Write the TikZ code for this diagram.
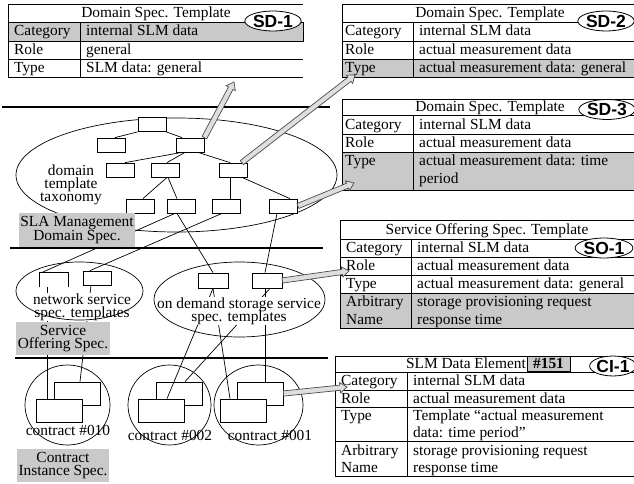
\documentclass[tikz,border=0pt]{standalone}
\usepackage{fontspec}
\setmainfont{Liberation Serif}
\newfontfamily\tagfont{Liberation Sans}
\usetikzlibrary{positioning,calc,shapes.geometric}
\definecolor{cellgray}{gray}{0.79}
\definecolor{pipegray}{gray}{0.87}
\pgfdeclarelayer{background}
\pgfsetlayers{background,main}
\newcommand{\lblfont}{\fontsize{15.4}{13.2}\selectfont\setlength{\lineskiplimit}{-20pt}}
\newcommand{\pipearrow}[2]{%
  \coordinate (pa) at (#1);
  \coordinate (pb) at (#2);
  \coordinate (pc) at ($(pb)!7pt!(pa)$);
  \filldraw[pipe] ($(pa)!2.6pt!90:(pb)$) -- ($(pc)!2.6pt!-90:(pa)$)
    -- ($(pc)!5.2pt!-90:(pa)$) -- (pb) -- ($(pc)!5.2pt!90:(pa)$)
    -- ($(pc)!2.6pt!90:(pa)$) -- ($(pa)!2.6pt!-90:(pb)$) -- cycle;}

\begin{document}
\begin{tikzpicture}[x=1pt,y=-1pt,
  every node/.style={inner sep=0pt},
  txt/.style={font=\lblfont,align=center},
  glabel/.style={txt,fill=cellgray},
  tbox/.style={draw,fill=white,line width=0.8pt,minimum width=28pt,minimum height=14pt},
  dbox/.style={tbox,minimum width=30pt,minimum height=15pt},
  kback/.style={draw,line width=0.8pt,minimum width=46pt,minimum height=23pt},
  kfront/.style={kback,fill=white},
  layer/.style={line width=2.6pt},
  link/.style={line width=0.7pt},
  tab/.style={line width=0.9pt},
  cell/.style={anchor=base west,font=\fontsize{15.4}{18}\selectfont},
  head/.style={anchor=base,font=\fontsize{15.4}{18}\selectfont},
  tag/.style={ellipse,draw,fill=white,line width=0.8pt,inner ysep=0.8pt,
    font=\tagfont\bfseries\fontsize{17.5}{17.5}\selectfont,text height=12.5pt,text depth=0pt},
  idbox/.style={draw,fill=cellgray,line width=0.6pt,minimum width=43pt,minimum height=15pt,
    font=\bfseries\fontsize{15.4}{18}\selectfont},
  pipe/.style={draw=black!70,fill=pipegray,line width=0.7pt,line join=miter}]
\useasboundingbox (0,0) rectangle (634,484);

\draw[layer] (2,107) -- (330,107);
\draw[layer] (10,248) -- (323,248);
\draw[layer] (15,358) -- (328,358);

\node[txt,fill=white] (lblnet) at (82,307) {network service\\spec. templates};
\node[txt,fill=white] (lblod) at (239,311) {on demand storage service\\spec. templates};
\node[txt] (lbltax) at (71,185) {domain\\template\\taxonomy};
\node[txt] (lblk10) at (68,430) {contract \#010};
\node[txt] (lblk02) at (170,435) {contract \#002};
\node[txt] (lblk01) at (270,435) {contract \#001};

\draw[link] (176.5,175) ellipse [x radius=160.5, y radius=57];
\draw[link] (79.5,291) ellipse [x radius=63.5, y radius=29];
\draw[link] (239.5,299.5) ellipse [x radius=85.5, y radius=37.5];
\draw[link] (67.5,405) ellipse [x radius=42.5, y radius=40];
\draw[link] (169.5,405) ellipse [x radius=41.5, y radius=40];
\draw[link] (258.5,405) ellipse [x radius=44.5, y radius=40];

\node[tbox] (root) at (152,124.5) {};
\node[tbox] (ta1) at (111.5,145) {};
\node[tbox] (ta2) at (190,145) {};
\node[tbox] (tb1) at (120,170) {};
\node[tbox] (tb2) at (165,170) {};
\node[tbox] (tb3) at (233.5,170) {};
\node[tbox] (tc1) at (140,206) {};
\node[tbox] (tc2) at (181,206) {};
\node[tbox] (tc3) at (226,206) {};
\node[tbox] (tc4) at (283.5,206) {};

\node[tbox,draw=none,fill=none] (ns1) at (54,280) {};
\draw[link] (ns1.south west) -- (ns1.north west) -- (ns1.north east) -- (ns1.south east);
\node[tbox] (ns2) at (97,278) {};
\node[dbox] (od1) at (213,280.5) {};
\node[dbox] (od2) at (267,280.5) {};

\node[kback] (k10b) at (77,393.5) {};
\node[kfront] (k10a) at (59.5,410.5) {};
\node[kback] (k02b) at (179,393.5) {};
\node[kfront] (k02a) at (161.5,410.5) {};
\node[kback] (k01b) at (260,393.5) {};
\node[kfront] (k01a) at (243,410.5) {};

\node[glabel,minimum width=116pt,minimum height=34pt] (lblsla) at (77,230) {SLA Management\\Domain Spec.};
\node[glabel,minimum width=94pt,minimum height=33pt] (lblso) at (63,338.5) {Service\\Offering Spec.};
\node[glabel,minimum width=92pt,minimum height=33pt] (lblci) at (63,465.5) {Contract\\Instance Spec.};

\begin{pgfonlayer}{background}
\draw[link] (root.south west) -- ([xshift=3.5pt]ta1.north);
\draw[link] (root.south east) -- ([xshift=-8pt]ta2.north);
\draw[link] ([xshift=-8pt]ta2.south) -- ([xshift=5pt]tb1.north);
\draw[link] ([xshift=-5pt]ta2.south) -- ([xshift=2pt]tb2.north);
\draw[link] ([xshift=8pt]ta2.south) -- ([xshift=-3.5pt]tb3.north);
\draw[link] ([xshift=2pt]tb2.south) -- ([xshift=3pt]tc1.north);
\draw[link] ([xshift=3pt]tb2.south) -- ([xshift=-4pt]tc2.north);
\draw[link] ([xshift=-3.5pt]tb3.south) -- ([xshift=4pt]tc3.north);
\draw[link] ([xshift=8.5pt]tb3.south) -- ([xshift=6.5pt]tc4.north);
\draw[link] ([xshift=-6pt]tc2.south) -- ([xshift=2pt]ns1.north west);
\draw[link] ([xshift=-4pt]tc2.south) -- (od1.north);
\draw[link] ([xshift=-4pt]tc3.south) -- ([xshift=-7pt]ns2.north);
\draw[link] ([xshift=-6.5pt]tc4.south) -- ([xshift=-2pt]od2.north);
\draw[link] ([xshift=-7pt]ns1.south) -- ([xshift=-12.5pt]k10a.north);
\draw[link] ([xshift=-6pt]ns2.south) -- ([xshift=3pt]k10b.north);
\draw[link] (od1.south) -- ([xshift=5.5pt]k02a.north);
\draw[link] (od1.south) -- ([xshift=-13pt]k01a.north);
\draw[link] ([xshift=3pt]od2.south) -- ([xshift=6pt]k02b.north);
\draw[link] ([xshift=-2pt]od2.south) -- ([xshift=5pt]k01b.north);
\end{pgfonlayer}

\fill[cellgray] (8,22) rectangle (303,41);
\draw[tab] (303,4) -- (8,4) -- (8,77) -- (303,77);
\draw[tab] (8,22) rectangle (303,41);
\draw[tab] (8,59) -- (303,59);
\draw[tab] (80,22) -- (80,77);
\node[head] (sd1title) at (156,17.5) {Domain Spec. Template};
\node[cell] at (14,36) {Category};
\node[cell] at (86,36) {internal SLM data};
\node[cell] at (14,54.5) {Role};
\node[cell] at (86,54.5) {general};
\node[cell] at (14,72.5) {Type};
\node[cell] at (86,72.5) {SLM data: general};
\node[tag] (sd1) at (273,21) {SD-1};

\fill[cellgray] (342,59) rectangle (634,77);
\draw[tab] (634,4) -- (342,4) -- (342,77) -- (634,77);
\draw[tab] (342,22) -- (634,22);
\draw[tab] (342,41) -- (634,41);
\draw[tab] (342,59) -- (634,59);
\draw[tab] (413,22) -- (413,77);
\node[head] (sd2title) at (490,17.5) {Domain Spec. Template};
\node[cell] at (345,36) {Category};
\node[cell] at (419,36) {internal SLM data};
\node[cell] at (345,54.5) {Role};
\node[cell] at (419,54.5) {actual measurement data};
\node[cell] at (345,72.5) {Type};
\node[cell] at (419,72.5) {actual measurement data: general};
\node[tag] (sd2) at (606,21) {SD-2};

\fill[cellgray] (342,152) rectangle (634,190);
\draw[tab] (634,99) -- (342,99) -- (342,190) -- (634,190);
\draw[tab] (342,115) -- (634,115);
\draw[tab] (342,134) -- (634,134);
\draw[tab] (342,152) -- (634,152);
\draw[tab] (413,115) -- (413,190);
\node[head] (sd3title) at (490,111.5) {Domain Spec. Template};
\node[cell] at (345,129) {Category};
\node[cell] at (419,129) {internal SLM data};
\node[cell] at (345,147.5) {Role};
\node[cell] at (419,147.5) {actual measurement data};
\node[cell] at (345,165.5) {Type};
\node[cell] at (419,165.5) {actual measurement data: time};
\node[cell] at (419,183.5) {period};
\node[tag] (sd3) at (607,109.5) {SD-3};

\fill[cellgray] (340,293) rectangle (634,328);
\draw[tab] (634,220) -- (340,220) -- (340,328) -- (634,328);
\draw[tab] (340,239) -- (634,239);
\draw[tab] (340,257) -- (634,257);
\draw[tab] (340,275) -- (634,275);
\draw[tab] (340,293) -- (634,293);
\draw[tab] (411,239) -- (411,328);
\node[head] (so1title) at (487,234) {Service Offering Spec. Template};
\node[cell] at (346,252.5) {Category};
\node[cell] at (417,252.5) {internal SLM data};
\node[cell] at (346,270.5) {Role};
\node[cell] at (417,270.5) {actual measurement data};
\node[cell] at (346,288.5) {Type};
\node[cell] at (417,288.5) {actual measurement data: general};
\node[cell] at (346,306.5) {Arbitrary};
\node[cell] at (417,306.5) {storage provisioning request};
\node[cell] at (346,324) {Name};
\node[cell] at (417,324) {response time};
\node[tag] (so1) at (604,248) {SO-1};

\draw[tab] (634,356) -- (335,356) -- (335,476) -- (634,476);
\draw[tab] (335,372) -- (634,372);
\draw[tab] (335,390) -- (634,390);
\draw[tab] (335,407) -- (634,407);
\draw[tab] (335,441) -- (634,441);
\draw[tab] (407,372) -- (407,476);
\node[head,anchor=base east] (ci1title) at (526,368.5) {SLM Data Element};
\node[idbox] (ci1id) at (548.5,363.5) {\#151};
\node[cell] at (341,385.5) {Category};
\node[cell] at (413,385.5) {internal SLM data};
\node[cell] at (341,403) {Role};
\node[cell] at (413,403) {actual measurement data};
\node[cell] at (341,420.5) {Type};
\node[cell] at (413,420.5) {Template “actual measurement};
\node[cell] at (413,437.5) {data: time period”};
\node[cell] at (341,455) {Arbitrary};
\node[cell] at (413,455) {storage provisioning request};
\node[cell] at (341,472.5) {Name};
\node[cell] at (413,472.5) {response time};
\node[tag] (ci1) at (613,366) {CI-1};

\coordinate (sd1in) at (234,82);
\coordinate (sd2in) at (355,75);
\coordinate (sd3in) at (354,183);
\coordinate (so1in) at (349,271);
\coordinate (ci1in) at (347,387);
\pipearrow{ta2.north east}{sd1in}
\pipearrow{[xshift=-6pt]tb3.north east}{sd2in}
\pipearrow{tc4.east}{sd3in}
\pipearrow{od2.east}{so1in}
\pipearrow{k01b.east}{ci1in}
\end{tikzpicture}
\end{document}
